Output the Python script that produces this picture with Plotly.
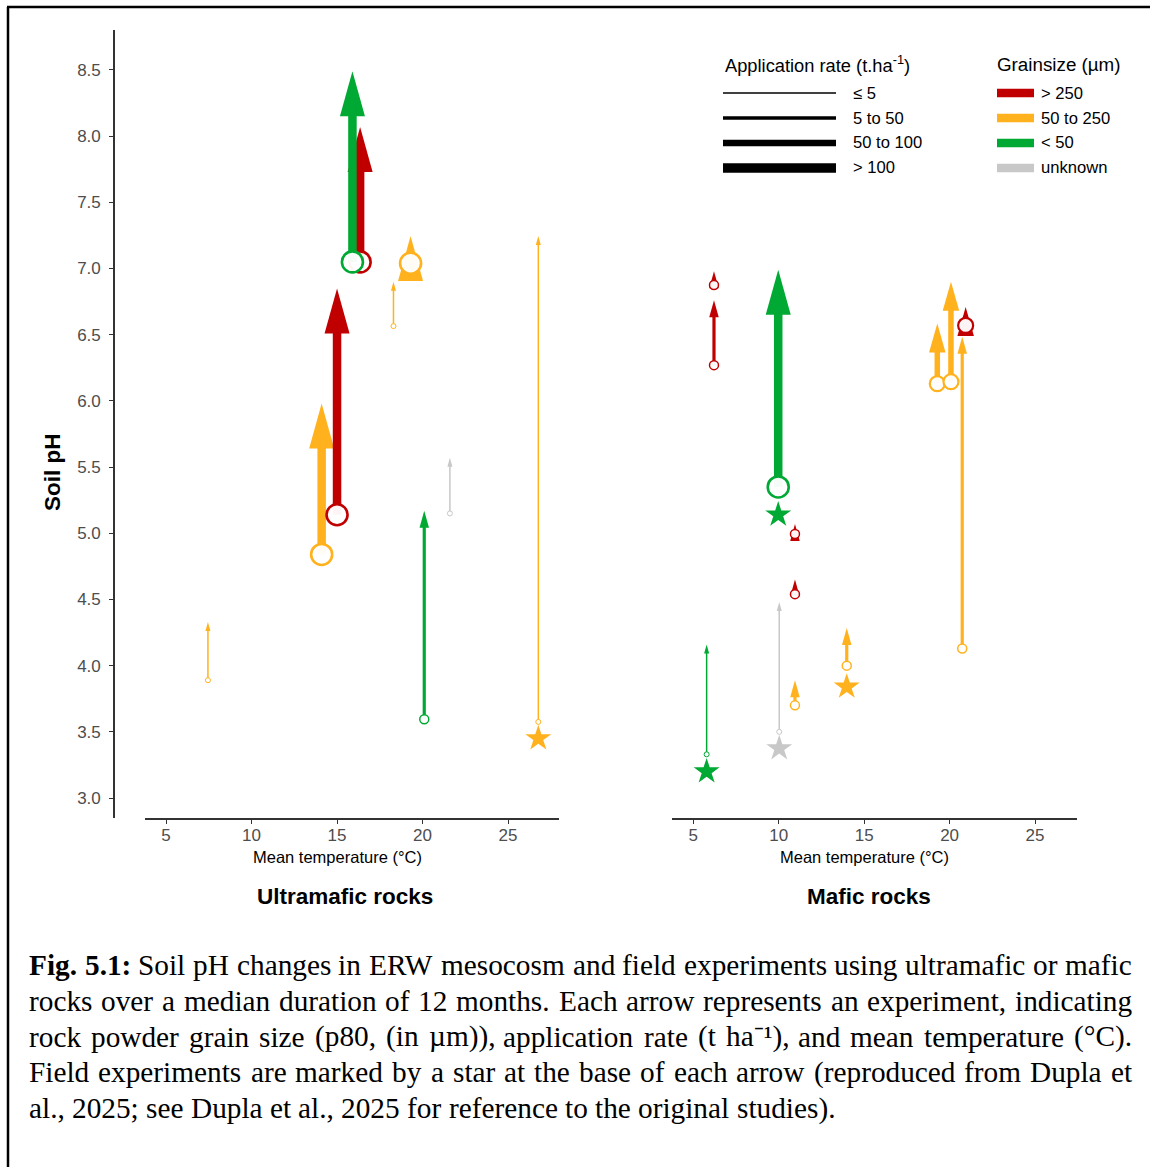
import plotly.graph_objects as go

W, H = 1150, 1167

# ---------------------------------------------------------------- data
# Ultramafic rock experiments: mean temperature, soil pH before/after
UM_TEMP = [7.45, 14.1, 15.0, 16.35, 15.9, 18.3, 19.3, 20.1, 21.6, 26.77]
UM_PH_START = [3.89, 4.84, 5.14, 7.05, 7.05, 6.565, 7.04, 3.595, 5.15, 3.575]
UM_PH_END = [4.33, 5.98, 6.85, 8.07, 8.49, 6.90, 7.245, 5.17, 5.57, 7.245]
UM_GRAIN = ["50-250", "50-250", ">250", ">250", "<50", "50-250", "50-250", "<50", "unknown", "50-250"]
UM_RATE = ["<=5", ">100", ">100", ">100", ">100", "<=5", ">100", "5-50", "<=5", "<=5"]
UM_STAR = [None, None, None, None, None, None, None, None, None, 3.45]

# Mafic rock experiments
MA_TEMP = [6.21, 6.21, 9.97, 10.95, 10.95, 10.95, 10.03, 5.78, 13.98, 19.28, 20.08, 20.74, 20.94]
MA_PH_START = [6.27, 6.875, 5.35, 4.995, 4.54, 3.70, 3.50, 3.33, 4.00, 6.13, 6.145, 4.13, 6.57]
MA_PH_END = [6.76, 6.98, 6.99, 5.07, 4.65, 3.89, 4.48, 4.16, 4.285, 6.585, 6.90, 6.485, 6.71]
MA_GRAIN = [">250", ">250", "<50", ">250", ">250", "50-250", "unknown", "<50", "50-250",
            "50-250", "50-250", "50-250", ">250"]
MA_RATE = ["5-50", "5-50", ">100", "5-50", "5-50", "5-50", "<=5", "<=5", "5-50",
           "50-100", "50-100", "5-50", "50-100"]
MA_STAR = [None, None, 5.14, None, None, None, 3.375, 3.20, 3.84, None, None, None, None]

X_TICKS = [5, 10, 15, 20, 25]
Y_TICKS = [3.0, 3.5, 4.0, 4.5, 5.0, 5.5, 6.0, 6.5, 7.0, 7.5, 8.0, 8.5]

RATE_KEYS = ["<=5", "5-50", "50-100", ">100"]
RATE_LABELS = ["≤ 5", "5 to 50", "50 to 100", "&gt; 100"]
GRAIN_KEYS = [">250", "50-250", "<50", "unknown"]
GRAIN_LABELS = ["&gt; 250", "50 to 250", "&lt; 50", "unknown"]

CAPTION_LINES = [
    "**Fig. **5.1: Soil pH changes in ERW mesocosm and field experiments using ultramafic or mafic",
    "rocks over a median duration of 12 months. Each arrow represents an experiment, indicating",
    "rock powder grain size (p80, (in µm)), application rate (t ha⁻¹), and mean temperature (°C).",
    "Field experiments are marked by a star at the base of each arrow (reproduced from Dupla et",
    "al., 2025; see Dupla et al., 2025 for reference to the original studies).",
]

# ---------------------------------------------------------------- styles
GRAIN_COLORS = {">250": "#C00000", "50-250": "#FFB21E", "<50": "#00A933", "unknown": "#C8C8C8"}
SHAFT_W = {"<=5": 1.5, "5-50": 3.2, "50-100": 5.5, ">100": 8.5}
HEAD_LW = {"<=5": (9, 5), "5-50": (17, 9.5), "50-100": (29, 16.5), ">100": (45, 25)}
CIRCLE_D = {"<=5": 5, "5-50": 9, "50-100": 15, ">100": 21}
CIRCLE_LW = {"<=5": 1.0, "5-50": 1.5, "50-100": 2.2, ">100": 2.6}
LEGEND_LW = [1.3, 3.3, 6.5, 9.3]

SANS = "Liberation Sans, Arial, sans-serif"
SERIF = "Liberation Serif, Times New Roman, serif"
AX_COLOR = "#333333"
TICK_TXT = "#4D4D4D"

# plot area in page pixels
Y_TOP_PX, Y_BOT_PX = 30, 818
Y_RANGE = [2.849, 8.802]
PPU = (Y_BOT_PX - Y_TOP_PX) / (Y_RANGE[1] - Y_RANGE[0])   # pixels per pH unit


def px(xp):
    return xp / W


def py(yp):
    return 1 - yp / H


fig = go.Figure()
shapes = []
annotations = []


def add_panel(xa, temps, ph0, ph1, grains, rates, stars):
    for t, a, b, g, r in zip(temps, ph0, ph1, grains, rates):
        col = GRAIN_COLORS[g]
        hl, hw = HEAD_LW[r]
        end = b - 0.6 * hl / PPU
        if end > a:
            fig.add_trace(go.Scatter(
                x=[t, t], y=[a, end], mode="lines", xaxis=xa, yaxis="y",
                line=dict(color=col, width=SHAFT_W[r]),
                hoverinfo="skip", showlegend=False))
        shapes.append(dict(
            type="path", xref=xa, yref="y", xsizemode="pixel", ysizemode="pixel",
            xanchor=t, yanchor=b,
            path=f"M0,0 L{-hw / 2},{-hl} L{hw / 2},{-hl} Z",
            fillcolor=col, line=dict(width=0, color=col), layer="below"))
        fig.add_trace(go.Scatter(
            x=[t], y=[a], mode="markers", xaxis=xa, yaxis="y",
            marker=dict(symbol="circle", size=CIRCLE_D[r], color="rgba(255,255,255,0.96)",
                        line=dict(color=col, width=CIRCLE_LW[r])),
            hoverinfo="skip", showlegend=False))
    sx = [t for t, s in zip(temps, stars) if s is not None]
    sy = [s for s in stars if s is not None]
    sc = [GRAIN_COLORS[g] for g, s in zip(grains, stars) if s is not None]
    fig.add_trace(go.Scatter(
        x=sx, y=sy, mode="markers", xaxis=xa, yaxis="y",
        marker=dict(symbol="star", size=19.5, color=sc, line=dict(width=0)),
        hoverinfo="skip", showlegend=False))


add_panel("x", UM_TEMP, UM_PH_START, UM_PH_END, UM_GRAIN, UM_RATE, UM_STAR)
add_panel("x2", MA_TEMP, MA_PH_START, MA_PH_END, MA_GRAIN, MA_RATE, MA_STAR)

# ---------------------------------------------------------------- axes
axis_common = dict(
    showline=True, linecolor=AX_COLOR, linewidth=1.6,
    ticks="outside", ticklen=4, tickwidth=1.4, tickcolor=AX_COLOR,
    tickfont=dict(family=SANS, size=17, color=TICK_TXT),
    showgrid=False, zeroline=False, fixedrange=True,
)


def ann(text, x, y, size, color="black", xanchor="center", yanchor="middle",
        family=SANS, angle=0):
    annotations.append(dict(
        text=text, x=x, y=y, xref="paper", yref="paper", showarrow=False,
        xanchor=xanchor, yanchor=yanchor, textangle=angle, borderpad=0,
        font=dict(family=family, size=size, color=color)))


# panel titles and axis titles
ann("Mean temperature (°C)", px(337.5), py(857), 16.5)
ann("Mean temperature (°C)", px(864.5), py(857), 16.5)
ann("<b>Ultramafic rocks</b>", px(344.5), py(896), 22.5)
ann("<b>Mafic rocks</b>", px(869), py(896), 22.5)
ann("<b>Soil pH</b>", px(53), py(472), 22.5, angle=-90)

# ---------------------------------------------------------------- legends
ann("Application rate (t.ha<sup>-1</sup>)", px(724), py(64), 18.3, xanchor="left")
ann("Grainsize (µm)", px(996), py(64), 18.8, xanchor="left")
LEG_Y = [93, 118, 143, 168]
for i, (lab, lw) in enumerate(zip(RATE_LABELS, LEGEND_LW)):
    shapes.append(dict(type="line", xref="paper", yref="paper",
                       x0=px(723), x1=px(836), y0=py(LEG_Y[i]), y1=py(LEG_Y[i]),
                       line=dict(color="black", width=lw)))
    ann(lab, px(852), py(LEG_Y[i]), 16.6, xanchor="left")
for i, (key, lab) in enumerate(zip(GRAIN_KEYS, GRAIN_LABELS)):
    shapes.append(dict(type="rect", xref="paper", yref="paper",
                       x0=px(997), x1=px(1034), y0=py(LEG_Y[i] - 4.2), y1=py(LEG_Y[i] + 4.2),
                       fillcolor=GRAIN_COLORS[key], line=dict(width=0)))
    ann(lab, px(1040), py(LEG_Y[i]), 16.6, xanchor="left")

# ---------------------------------------------------------------- caption
# Times glyph advance widths (per 1000 em), used to justify each caption line
TIMES = dict(zip("abcdefghijklmnopqrstuvwxyz",
                 [444, 500, 444, 500, 444, 333, 500, 500, 278, 278, 500, 278, 778,
                  500, 500, 500, 500, 333, 389, 278, 500, 500, 722, 500, 500, 444]))
TIMES.update({"A": 722, "B": 667, "C": 667, "D": 722, "E": 611, "F": 556, "G": 722,
              "H": 722, "R": 667, "S": 556, "W": 944, ".": 250, ",": 250, ":": 278,
              ";": 278, "(": 333, ")": 333, "°": 400, "µ": 500, "⁻": 300, "¹": 300,
              "-": 333, " ": 250})
TIMES.update({d: 500 for d in "0123456789"})
TIMES_BOLD = {"F": 611, "i": 278, "g": 500, ".": 250, "5": 500, "1": 500, ":": 333}

CAP_SIZE = 29.3
CAP_LEFT, CAP_RIGHT = 28, 1131
CAP_Y0, CAP_DY = 965, 35.8


def word_width(word, bold):
    table = TIMES_BOLD if bold else TIMES
    return sum(table.get(ch, TIMES.get(ch, 500)) for ch in word) * CAP_SIZE / 1000


for li, line in enumerate(CAPTION_LINES):
    words = []
    if line.startswith("**"):
        head, rest = line[2:].split("**", 1)
        words.append((head.strip(), True))
        rest_words = rest.split()
        # "5.1:" is bold as well
        words.append((rest_words[0], True))
        words += [(w, False) for w in rest_words[1:]]
    else:
        words = [(w, False) for w in line.split()]
    widths = [word_width(w, b) for w, b in words]
    last = li == len(CAPTION_LINES) - 1
    gap = TIMES[" "] * CAP_SIZE / 1000
    if not last:
        gap = (CAP_RIGHT - CAP_LEFT - sum(widths)) / (len(words) - 1)
    xcur = CAP_LEFT
    for (w, b), wd in zip(words, widths):
        txt = f"<b>{w}</b>" if b else w
        ann(txt, px(xcur), py(CAP_Y0 + li * CAP_DY), CAP_SIZE, xanchor="left", family=SERIF)
        xcur += wd + gap

# ---------------------------------------------------------------- frame
shapes.append(dict(type="line", xref="paper", yref="paper", x0=px(7), x1=1.0,
                   y0=py(7), y1=py(7), line=dict(color="black", width=2.5)))
shapes.append(dict(type="line", xref="paper", yref="paper", x0=px(8), x1=px(8),
                   y0=py(7), y1=0.0, line=dict(color="black", width=2.5)))

fig.update_layout(
    width=W, height=H, autosize=False,
    margin=dict(l=0, r=0, t=0, b=0, pad=0),
    paper_bgcolor="white", plot_bgcolor="white",
    showlegend=False,
    xaxis=dict(domain=[px(145), px(559)], range=[3.77, 27.98], anchor="y",
               tickvals=X_TICKS, ticklabelstandoff=-3, **axis_common),
    xaxis2=dict(domain=[px(672.3), px(1076.7)], range=[3.77, 27.44], anchor="y",
                tickvals=X_TICKS, ticklabelstandoff=-3, **axis_common),
    yaxis=dict(domain=[py(Y_BOT_PX), py(Y_TOP_PX)], range=Y_RANGE, anchor="free",
               position=px(114), tickvals=Y_TICKS, tickformat=".1f",
               ticklabelstandoff=5, **axis_common),
    shapes=shapes,
    annotations=annotations,
)

fig.write_html("out.html", config={"displayModeBar": False})
